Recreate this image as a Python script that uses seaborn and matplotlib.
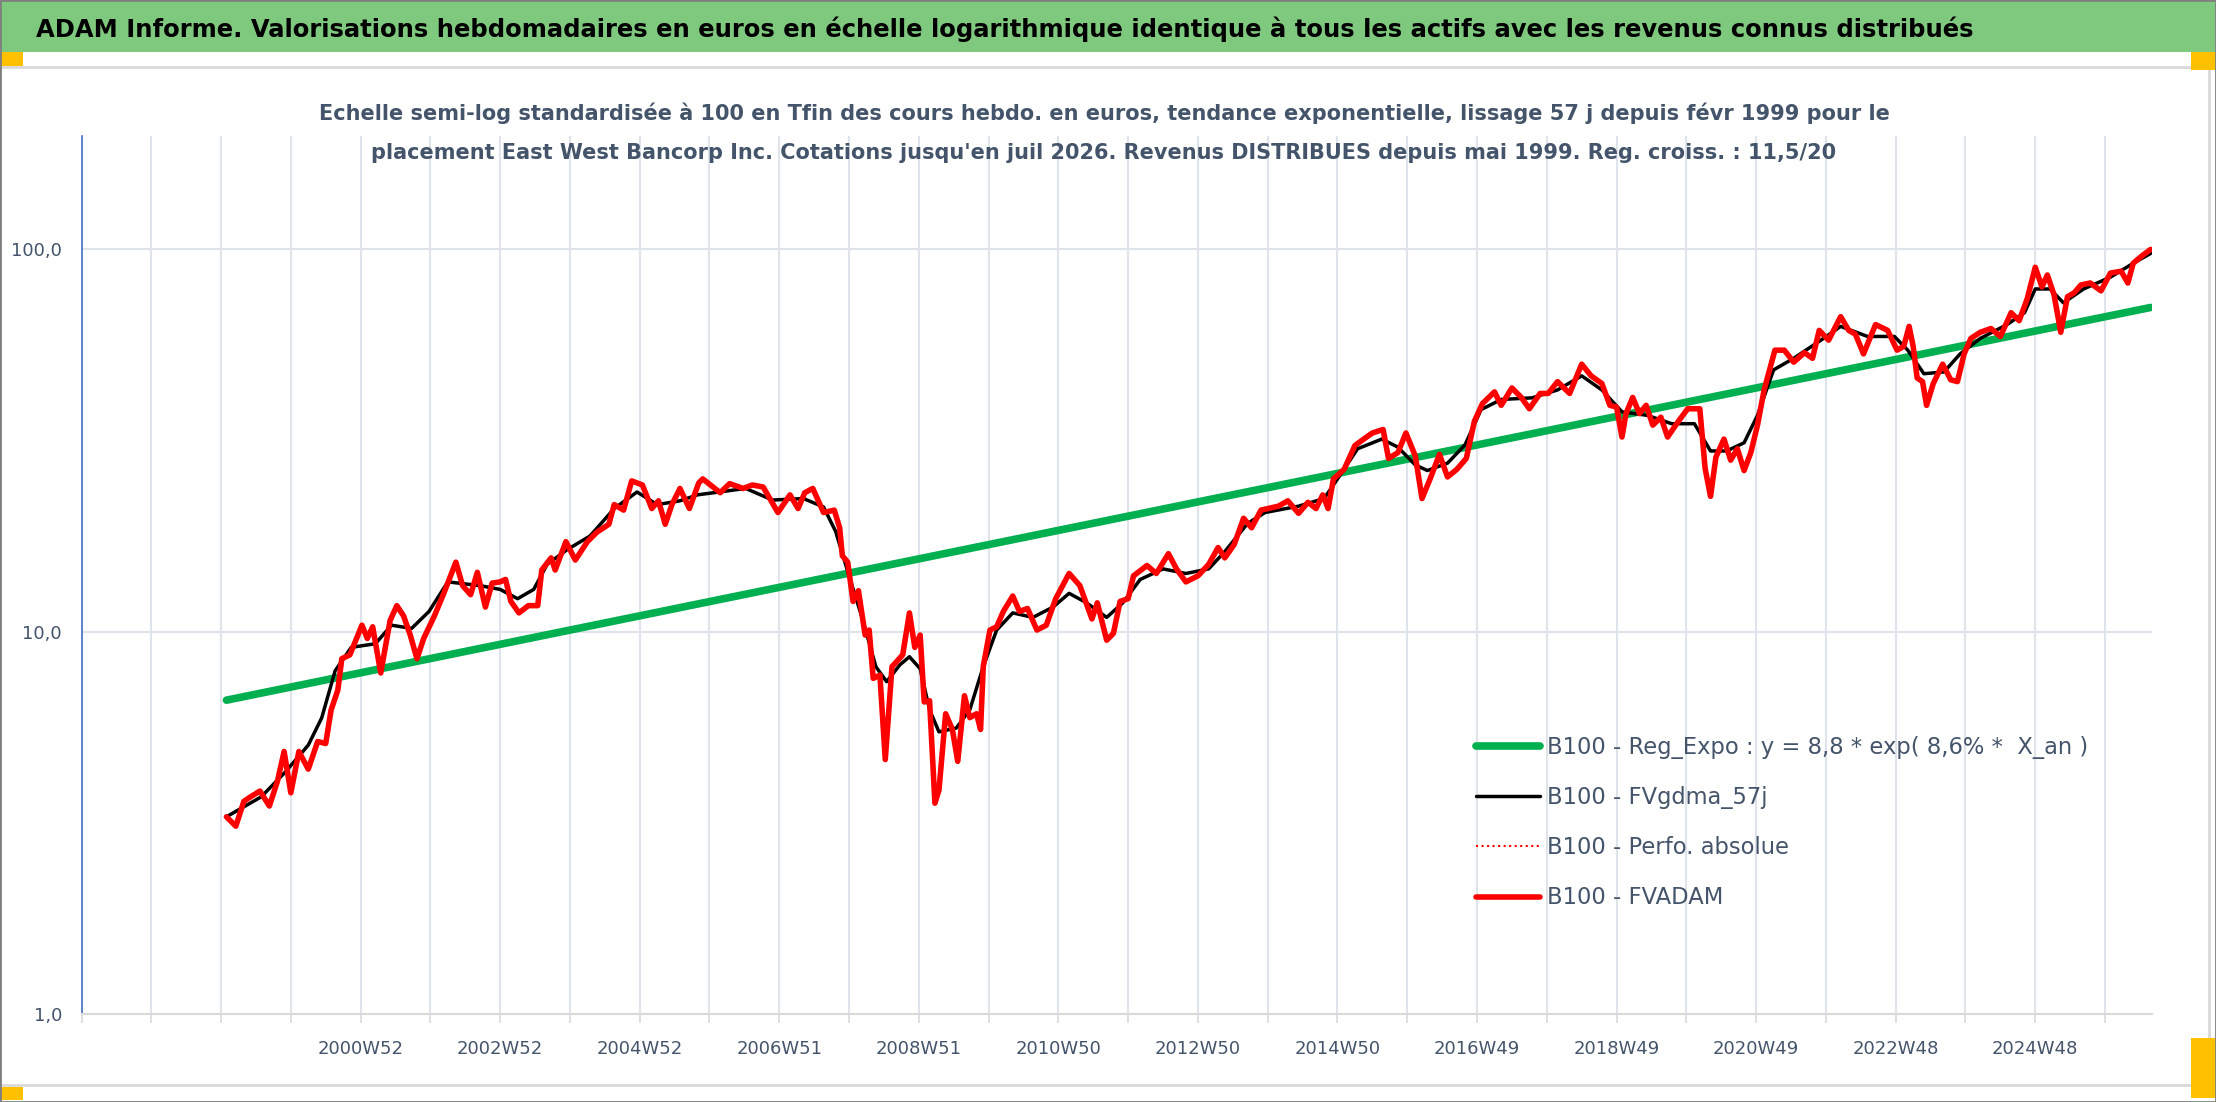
import matplotlib
matplotlib.use("Agg")
import matplotlib.pyplot as plt
from matplotlib.patches import Rectangle
from matplotlib.ticker import NullLocator
import seaborn as sns
import pandas as pd

# Taille de l'image cible en pixels
W, H = 2216, 1102

# --- Données (x = semaines depuis le début de l'axe) ---
semaines_fvadam = [
    108, 115, 121, 126, 133, 140, 146, 151, 156, 162, 169, 176, 182, 186, 191, 194, 200,
    209, 213, 217, 223, 230, 235, 240, 245, 250, 255, 263, 270, 279, 284, 290, 295,
    301, 306, 312, 316, 320, 326, 333, 340, 343, 350, 353, 361, 368, 377, 384, 393,
    397, 404, 410, 418, 425, 430, 435, 440, 446, 453, 460, 463, 476, 483, 493, 500,
    508, 513, 519, 528, 534, 539, 545, 553, 561, 565, 567, 571, 575, 579, 584, 587,
    590, 595, 599, 604, 612, 617, 621, 625, 628, 632, 636, 639, 644, 649, 653, 658,
    662, 667, 670, 672, 677, 682, 687, 694, 699, 705, 712, 719, 726, 736, 744, 753,
    757, 764, 769, 774, 780, 784, 794, 801, 810, 816, 823, 832, 840, 847, 852, 859,
    866, 872, 879, 892, 899, 907, 914, 920, 925, 929, 933, 941, 949, 955, 962, 970,
    974, 981, 987, 994, 999, 1005, 1012, 1018, 1025, 1032, 1038, 1044, 1053, 1058,
    1066, 1073, 1079, 1087, 1093, 1100, 1109, 1118, 1125, 1133, 1139, 1144, 1148,
    1151, 1156, 1161, 1166, 1171, 1177, 1182, 1190, 1197, 1206, 1210, 1214, 1218,
    1224, 1229, 1234, 1239, 1244, 1249, 1254, 1262, 1269, 1276, 1284, 1290, 1295,
    1302, 1311, 1317, 1322, 1328, 1337, 1346, 1353, 1358, 1362, 1365, 1368, 1372,
    1375, 1380, 1387, 1393, 1398, 1403, 1408, 1415, 1423, 1430, 1438, 1444, 1450,
    1456, 1461, 1465, 1470, 1475, 1480, 1485, 1490, 1497, 1505, 1512, 1520, 1525,
    1529, 1536, 1542,
]
fvadam = [
    3.28, 3.1, 3.6, 3.7, 3.83, 3.5, 4.06, 4.86, 3.79, 4.86, 4.37, 5.16, 5.1, 6.24, 7.03, 8.5, 8.7,
    10.4, 9.6, 10.3, 7.8, 10.7, 11.7, 11.0, 9.8, 8.5, 9.6, 11.0, 12.6, 15.2, 13.2, 12.5, 14.3,
    11.6, 13.4, 13.5, 13.7, 12.0, 11.2, 11.7, 11.7, 14.5, 15.6, 14.5, 17.2, 15.4, 17.2, 18.2, 19.1,
    21.5, 20.8, 24.8, 24.2, 21.0, 22.0, 19.1, 21.5, 23.7, 21.0, 24.5, 25.1, 23.1, 24.4, 23.7, 24.2,
    23.9, 22.3, 20.5, 22.8, 21.0, 23.1, 23.7, 20.5, 20.8, 18.7, 15.8, 15.2, 12.0, 12.8, 9.8, 10.1,
    7.55, 7.7, 4.63, 8.1, 8.7, 11.2, 9.1, 9.8, 6.55, 6.6, 3.56, 3.85, 6.1, 5.55, 4.58, 6.8,
    5.96, 6.1, 5.55, 8.1, 10.1, 10.3, 11.3, 12.4, 11.3, 11.5, 10.1, 10.4, 12.2, 14.2, 13.2, 10.8,
    11.9, 9.5, 9.9, 12.0, 12.2, 14.0, 14.9, 14.2, 16.0, 14.6, 13.5, 14.0, 15.0, 16.6, 15.6, 16.9,
    19.8, 18.7, 20.8, 21.3, 22.0, 20.4, 21.8, 21.0, 22.8, 21.0, 25.1, 26.6, 30.7, 31.8, 33.1, 33.8,
    28.4, 29.4, 33.1, 28.8, 22.3, 25.1, 29.1, 25.4, 26.6, 28.4, 35.5, 39.5, 42.4, 39.1,
    43.4, 41.0, 38.3, 42.0, 42.0, 45.1, 42.0, 50.1, 46.7, 44.6, 39.1, 38.7, 32.3,
    37.2, 41.0, 37.2, 39.1, 34.7, 36.4, 32.3, 35.5, 38.3, 38.3, 26.7, 22.6, 28.6,
    31.9, 28.1, 30.1, 26.4, 29.4, 34.7, 43.0, 54.5, 54.5, 50.7, 53.7, 51.9, 61.4,
    57.9, 66.7, 61.4, 60.0, 53.3, 63.6, 61.4, 54.5, 55.8, 62.9, 55.8, 46.1, 45.1,
    39.1, 44.6, 50.1, 45.6, 45.1, 53.3, 58.5, 60.7, 62.1, 59.2, 68.3, 65.1, 74.3,
    89.8, 79.8, 85.7, 76.1, 60.7, 75.2, 77.0, 80.7, 81.7, 77.9, 86.7, 87.7, 81.7,
    92.0, 96.5, 100.0,
]

semaines_gdma = [
    108, 134, 152, 169, 179, 189, 201, 219, 231, 246, 259, 273, 297, 312, 325, 337, 347,
    362, 379, 397, 414, 429, 446, 459, 495, 515, 538, 553, 562, 572, 582, 592, 600, 610,
    617, 625, 632, 639, 652, 662, 672, 682, 694, 709, 724, 736, 749, 764, 776, 789, 806,
    823, 840, 852, 869, 882, 907, 926, 939, 951, 969, 981, 994, 1003, 1018, 1031, 1043,
    1058, 1081, 1100, 1118, 1133, 1148, 1167, 1185, 1202, 1214, 1226, 1239, 1249, 1261,
    1276, 1296, 1311, 1331, 1351, 1361, 1373, 1388, 1400, 1415, 1435, 1448, 1456, 1467,
    1477, 1492, 1512, 1529, 1542,
]
fvgdma_57j = [
    3.28, 3.7, 4.3, 5.05, 5.95, 7.9, 9.1, 9.3, 10.4, 10.2, 11.3, 13.5, 13.2, 12.9, 12.2, 12.9, 15.0,
    16.4, 17.8, 21.0, 23.2, 21.5, 22.0, 22.8, 23.7, 22.1, 22.3, 21.2, 18.3, 14.0, 10.8, 8.1, 7.4, 8.2,
    8.6, 8.0, 6.25, 5.47, 5.6, 6.25, 8.1, 10.1, 11.2, 10.9, 11.6, 12.6, 11.9, 10.9, 11.9, 13.7, 14.6,
    14.2, 14.6, 16.2, 19.2, 20.5, 21.3, 22.3, 26.0, 30.1, 31.9, 30.4, 27.3, 26.4, 27.6, 30.8, 38.1,
    40.5, 40.9, 42.9, 46.7, 42.9, 37.6, 36.8, 35.0, 35.0, 29.7, 29.7, 31.2, 36.8, 48.4,
    51.9, 57.8, 62.9, 59.2, 59.2, 54.5, 47.3, 47.8, 53.3, 58.5, 63.6, 68.3, 78.8, 78.8,
    72.5, 78.8, 84.6, 92.0, 97.6,
]

# Droite de régression exponentielle (début et fin)
semaines_reg = [108, 1542]
reg_expo = [6.62, 70.5]

# Axes
x_gridlines = list(range(0, 1509, 52))
x_labels = ["2000W52", "2002W52", "2004W52", "2006W51", "2008W51", "2010W50", "2012W50",
            "2014W50", "2016W49", "2018W49", "2020W49", "2022W48", "2024W48"]
y_ticks = [1, 10, 100]
y_labels = ["1,0", "10,0", "100,0"]

titre = ("ADAM Informe. Valorisations hebdomadaires en euros en échelle logarithmique "
         "identique à tous les actifs avec les revenus connus distribués")
sous_titre_1 = ("Echelle semi-log standardisée à 100 en Tfin des cours hebdo. en euros, "
                "tendance exponentielle, lissage 57 j depuis févr 1999 pour le")
sous_titre_2 = ("placement East West Bancorp Inc. Cotations jusqu'en juil 2026. "
                "Revenus DISTRIBUES depuis mai 1999. Reg. croiss. : 11,5/20")

lbl_reg = "B100 - Reg_Expo : y = 8,8 * exp( 8,6% *  X_an )"
lbl_gdma = "B100 - FVgdma_57j"
lbl_perf = "B100 - Perfo. absolue"
lbl_adam = "B100 - FVADAM"

df_adam = pd.DataFrame({"semaine": semaines_fvadam, "valeur": fvadam})
df_gdma = pd.DataFrame({"semaine": semaines_gdma, "valeur": fvgdma_57j})
df_reg = pd.DataFrame({"semaine": semaines_reg, "valeur": reg_expo})

sns.set_theme(style="white")
plt.rcParams["font.family"] = ["DejaVu Sans"]

TXT = "#44546a"
GRID = "#dfe3ea"


def fx(px):
    return px / W


def fy(py):
    return 1 - py / H


fig = plt.figure(figsize=(W / 100, H / 100), dpi=100)
fig.patch.set_facecolor("white")

# Bandeau vert du titre
fig.add_artist(Rectangle((0, fy(52)), 1, 52 / H, transform=fig.transFigure,
                         facecolor="#7fc97f", edgecolor="none", zorder=0))
fig.text(fx(36), fy(29), titre, ha="left", va="center", fontsize=17.5,
         fontweight="bold", color="black")

# Cadre de la zone graphique
fig.add_artist(Rectangle((0, fy(1085)), fx(2209), (1085 - 67) / H, transform=fig.transFigure,
                         facecolor="none", edgecolor="#d9d9d9", lw=2, zorder=1))
# Poignées orange
for (x0, y0, x1, y1) in [(0, 52, 23, 66), (2191, 52, 2216, 70),
                         (0, 1087, 23, 1100), (2191, 1038, 2216, 1098)]:
    fig.add_artist(Rectangle((fx(x0), fy(y1)), (x1 - x0) / W, (y1 - y0) / H,
                             transform=fig.transFigure, facecolor="#ffc000",
                             edgecolor="none", zorder=2))
# Bord extérieur
fig.add_artist(Rectangle((0, 0), 1, 1, transform=fig.transFigure, facecolor="none",
                         edgecolor="#7f7f7f", lw=2, zorder=3))

fig.text(fx(1104), fy(113), sous_titre_1, ha="center", va="center", fontsize=15,
         fontweight="bold", color=TXT)
fig.text(fx(1104), fy(153), sous_titre_2, ha="center", va="center", fontsize=15,
         fontweight="bold", color=TXT)

ax = fig.add_axes([fx(81.5), fy(1014), fx(2152 - 81.5), (1014 - 136) / H])

sns.lineplot(data=df_reg, x="semaine", y="valeur", ax=ax, color="#00b050", lw=5.5,
             label=lbl_reg, zorder=2)
sns.lineplot(data=df_adam, x="semaine", y="valeur", ax=ax, color="red", lw=1.5,
             linestyle=":", label=lbl_perf, zorder=2.5)
sns.lineplot(data=df_gdma, x="semaine", y="valeur", ax=ax, color="black", lw=2.5,
             label=lbl_gdma, zorder=3)
sns.lineplot(data=df_adam, x="semaine", y="valeur", ax=ax, color="red", lw=4,
             label=lbl_adam, zorder=4)

ax.set_yscale("log")
ax.set_ylim(1, 198)
ax.set_xlim(0, 1543)
ax.set_yticks(y_ticks)
ax.set_yticklabels(y_labels)
ax.yaxis.set_minor_locator(NullLocator())

tick_labels = [""] * len(x_gridlines)
for i, lab in enumerate(x_labels):
    tick_labels[4 + 2 * i] = lab
ax.set_xticks(x_gridlines)
ax.set_xticklabels(tick_labels)

ax.set_xlabel("")
ax.set_ylabel("")
ax.grid(True, axis="both", color=GRID, lw=1.5)
ax.set_axisbelow(True)

for s in ["top", "right"]:
    ax.spines[s].set_visible(False)
ax.spines["left"].set_color("#4472c4")
ax.spines["left"].set_linewidth(1.2)
ax.spines["bottom"].set_color("#d9d9d9")
ax.spines["bottom"].set_linewidth(1.5)

ax.tick_params(axis="x", length=6.5, width=1.2, color="#d9d9d9", pad=12,
               labelsize=13, labelcolor=TXT, bottom=True)
ax.tick_params(axis="y", length=0, pad=14, labelsize=13, labelcolor=TXT, left=True)

handles, labels = ax.get_legend_handles_labels()
order = [labels.index(l) for l in [lbl_reg, lbl_gdma, lbl_perf, lbl_adam]]
ax.legend([handles[i] for i in order], [labels[i] for i in order],
          loc="upper left", bbox_to_anchor=(fx(1476), fy(736)), bbox_transform=fig.transFigure,
          frameon=False, fontsize=16.3, labelcolor=TXT, handlelength=2.83, handletextpad=0.31,
          labelspacing=1.2, borderpad=0, borderaxespad=0)

fig.savefig("out.png", dpi=100)
